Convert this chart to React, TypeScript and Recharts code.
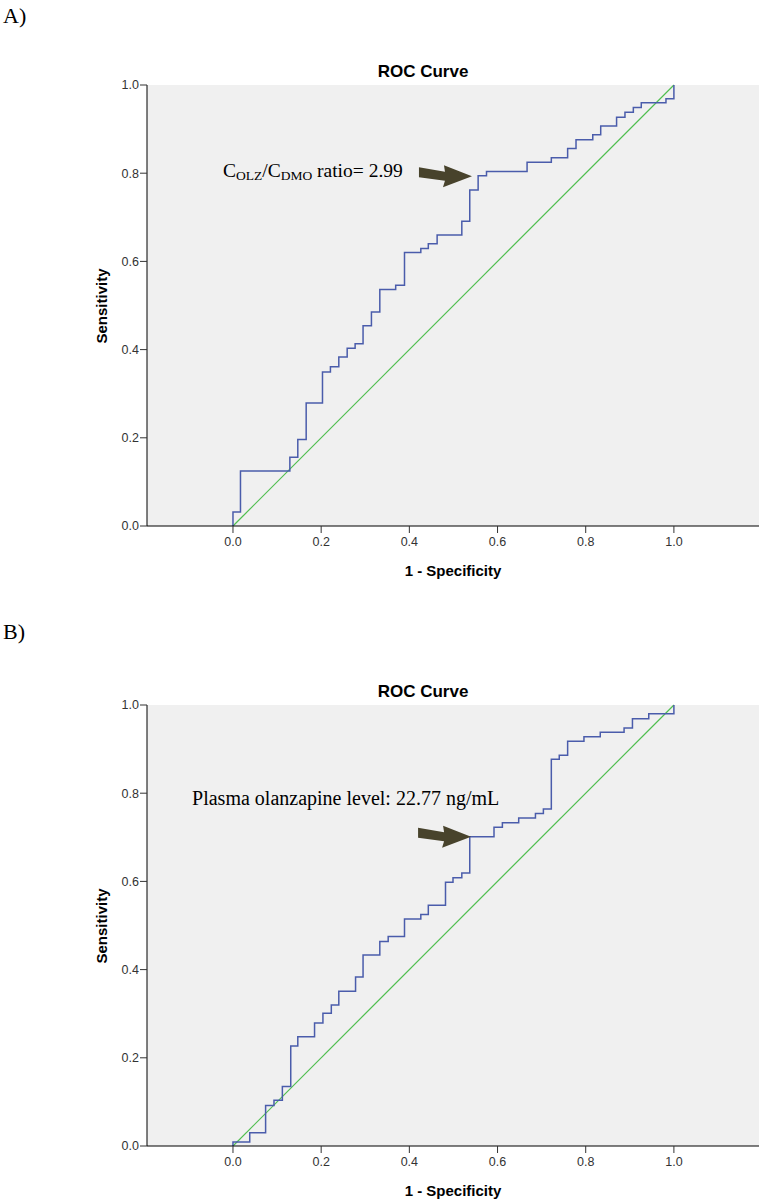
import { CartesianGrid, Line, LineChart, ReferenceDot, XAxis, YAxis } from 'recharts';

const axisTicks = [0, 0.2, 0.4, 0.6, 0.8, 1.0];

// A) C_OLZ / C_DMO ratio
const fprA = [0, 0, 0.017, 0.129, 0.147, 0.166, 0.203, 0.221, 0.240, 0.259, 0.277, 0.295, 0.314, 0.333, 0.369, 0.389, 0.426, 0.443, 0.463, 0.519, 0.537, 0.556, 0.575, 0.667, 0.722, 0.759, 0.778, 0.816, 0.834, 0.870, 0.889, 0.908, 0.926, 0.982, 1.0];
const tprA = [0, 0.032, 0.125, 0.156, 0.196, 0.279, 0.349, 0.361, 0.383, 0.403, 0.413, 0.454, 0.485, 0.536, 0.546, 0.620, 0.629, 0.640, 0.660, 0.691, 0.762, 0.794, 0.804, 0.825, 0.835, 0.856, 0.876, 0.887, 0.907, 0.927, 0.938, 0.949, 0.960, 0.969, 1.0];

// B) plasma olanzapine level
const fprB = [0, 0, 0.038, 0.074, 0.093, 0.112, 0.131, 0.147, 0.185, 0.204, 0.223, 0.240, 0.278, 0.295, 0.333, 0.352, 0.389, 0.426, 0.443, 0.482, 0.499, 0.519, 0.537, 0.592, 0.611, 0.648, 0.686, 0.704, 0.722, 0.740, 0.759, 0.796, 0.833, 0.887, 0.906, 0.943, 1.0];
const tprB = [0, 0.009, 0.030, 0.092, 0.104, 0.135, 0.227, 0.248, 0.279, 0.301, 0.320, 0.351, 0.383, 0.433, 0.464, 0.475, 0.515, 0.525, 0.546, 0.598, 0.608, 0.619, 0.701, 0.723, 0.733, 0.744, 0.754, 0.764, 0.877, 0.886, 0.918, 0.928, 0.938, 0.948, 0.969, 0.980, 1.0];

// reference (chance) line
const chanceFpr = [0, 1];
const chanceTpr = [0, 1];

// where the arrows point (cut-off)
const cutA = { fpr: 0.542, tpr: 0.793 };
const cutB = { fpr: 0.540, tpr: 0.701 };

const SANS = "Arial, 'Liberation Sans', sans-serif";
const SERIF = "'Times New Roman', 'Liberation Serif', serif";
const X_DOMAIN: [number, number] = [-0.195, 1.193];

const arrowShape = [[0, 0], [-28, -11], [-27, -4.5], [-53, -9], [-53, 1], [-27, 4.5], [-29, 11]];

function Pointer({ cx, cy, children }: any) {
  const pts = arrowShape.map(([dx, dy]) => `${cx + dx},${cy + dy}`).join(' ');
  return (
    <g>
      <polygon points={pts} fill="#48432c" />
      {children(cx, cy)}
    </g>
  );
}

const noteA = (cx: number, cy: number) => (
  <text x={cx - 249} y={cy + 1} fontFamily={SERIF} fontSize={19.5} fill="#000">
    C<tspan fontSize={13.5} dy={3}>OLZ</tspan><tspan dy={-3}>/C</tspan><tspan fontSize={13.5} dy={3}>DMO</tspan><tspan dy={-3}> ratio= 2.99</tspan>
  </text>
);

const noteB = (cx: number, cy: number) => (
  <text x={cx - 279} y={cy - 31.5} fontFamily={SERIF} fontSize={20} fill="#000">
    Plasma olanzapine level: 22.77 ng/mL
  </text>
);

const centered = (x: number, y: number, extra: any = {}) => ({
  position: 'absolute' as const,
  left: x,
  top: y,
  transform: 'translate(-50%, -50%)',
  whiteSpace: 'nowrap' as const,
  ...extra,
});

function RocPanel({ letter, letterY, top, fpr, tpr, cut, note }: any) {
  const curve = fpr.map((x: number, i: number) => ({ x, y: tpr[i] }));
  const chance = chanceFpr.map((x, i) => ({ x, y: chanceTpr[i] }));
  return (
    <div style={{ position: 'absolute', left: 0, top, width: 764, height: 600 }}>
      <div style={{ position: 'absolute', left: 3, top: letterY, transform: 'translateY(-50%)', fontFamily: SERIF, fontSize: 22, lineHeight: '22px' }}>{letter}</div>
      <div style={centered(423, 70.5, { fontFamily: SANS, fontWeight: 'bold', fontSize: 17, lineHeight: '17px' })}>ROC Curve</div>
      <div style={centered(100.5, 306, { fontFamily: SANS, fontWeight: 'bold', fontSize: 15, lineHeight: '15px', transform: 'translate(-50%, -50%) rotate(-90deg)' })}>Sensitivity</div>
      <div style={centered(453, 569.5, { fontFamily: SANS, fontWeight: 'bold', fontSize: 15, lineHeight: '15px' })}>1 - Specificity</div>
      <LineChart width={764} height={600} margin={{ top: 85, right: 5, bottom: 44, left: 87 }}>
        <CartesianGrid fill="#f0f0f0" stroke="none" horizontal={false} vertical={false} />
        <XAxis
          type="number"
          dataKey="x"
          domain={X_DOMAIN}
          allowDataOverflow
          ticks={axisTicks}
          tickFormatter={(v: number) => v.toFixed(1)}
          tick={{ fontFamily: SANS, fontSize: 12.5, fill: '#333' }}
          tickSize={7}
          tickMargin={4}
          tickLine={{ stroke: '#333' }}
          axisLine={{ stroke: '#000' }}
          height={30}
        />
        <XAxis xAxisId="top" orientation="top" type="number" domain={X_DOMAIN} allowDataOverflow tick={false} tickLine={false} axisLine={{ stroke: '#777' }} height={0} />
        <YAxis
          type="number"
          domain={[0, 1]}
          ticks={axisTicks}
          tickFormatter={(v: number) => v.toFixed(1)}
          tick={{ fontFamily: SANS, fontSize: 12.5, fill: '#333' }}
          tickSize={7}
          tickMargin={1}
          tickLine={{ stroke: '#333' }}
          axisLine={{ stroke: '#000' }}
          width={60}
        />
        <YAxis yAxisId="right" orientation="right" type="number" domain={[0, 1]} tick={false} tickLine={false} axisLine={{ stroke: '#666' }} width={0} />
        <Line data={chance} dataKey="y" type="linear" stroke="#4fbe4f" strokeWidth={1.2} dot={false} activeDot={false} isAnimationActive={false} />
        <Line data={curve} dataKey="y" type="stepAfter" stroke="#4a5cab" strokeWidth={1.5} dot={false} activeDot={false} isAnimationActive={false} />
        <ReferenceDot x={cut.fpr} y={cut.tpr} ifOverflow="visible" shape={(p: any) => <Pointer cx={p.cx} cy={p.cy}>{note}</Pointer>} />
      </LineChart>
    </div>
  );
}

export default function App() {
  return (
    <div style={{ position: 'absolute', left: 0, top: 0, width: 764, height: 1200, background: '#fff' }}>
      <RocPanel letter="A)" letterY={15.5} top={0} fpr={fprA} tpr={tprA} cut={cutA} note={noteA} />
      <RocPanel letter="B)" letterY={12} top={620} fpr={fprB} tpr={tprB} cut={cutB} note={noteB} />
    </div>
  );
}
